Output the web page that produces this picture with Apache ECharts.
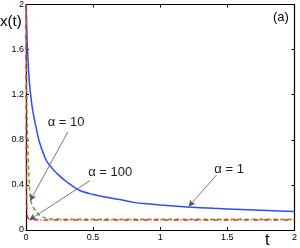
<!DOCTYPE html>
<html>
<head>
<meta charset="utf-8">
<script src="https://cdn.jsdelivr.net/npm/echarts@6/dist/echarts.min.js"></script>
<style>
html,body{margin:0;padding:0;background:#fff;}
#c{width:300px;height:248px;}
</style>
</head>
<body>
<div id="c"></div>
<script>
// ---- data ----
var tAlpha1 = [0, 0.005, 0.01, 0.02, 0.03, 0.05, 0.075, 0.1, 0.15, 0.2, 0.25, 0.3, 0.4, 0.5, 0.6, 0.7, 0.8, 0.9, 1.0, 1.2, 1.4, 1.6, 1.8, 2.0];
var xAlpha1 = [2.0, 1.8, 1.63, 1.4, 1.25, 1.06, 0.91, 0.78, 0.62, 0.54, 0.48, 0.43, 0.35, 0.315, 0.29, 0.27, 0.245, 0.232, 0.222, 0.205, 0.192, 0.182, 0.172, 0.163];

var tAlpha10 = [0, 0.002, 0.005, 0.01, 0.015, 0.02, 0.03, 0.04, 0.05, 0.075, 0.1, 0.15, 0.2, 0.3, 0.5, 1.0, 1.5, 2.0];
var xAlpha10 = [2.0, 1.6, 1.2, 0.9, 0.7, 0.52, 0.3, 0.24, 0.21, 0.165, 0.13, 0.105, 0.098, 0.096, 0.096, 0.096, 0.096, 0.096];

var tAlpha100 = [0, 0.001, 0.002, 0.004, 0.006, 0.01, 0.02, 0.05, 0.1, 0.5, 1.0, 1.5, 2.0];
var xAlpha100 = [2.0, 1.2, 0.7, 0.35, 0.2, 0.12, 0.095, 0.09, 0.089, 0.088, 0.088, 0.088, 0.088];

var xTickLabels = ['0', '0.5', '1', '1.5', '2'];
var yTickLabels = ['0', '0.4', '0.8', '1.2', '1.6', '2'];

var annotLabels = ['\u03b1 = 10', '\u03b1 = 100', '\u03b1 = 1'];
var annotTextAt = [[0.299, 0.956], [0.627, 0.509], [1.513, 0.54]];
var annotFrom = [[0.312, 0.87], [0.476, 0.438], [1.419, 0.487]];
var annotTo = [[0.03, 0.257], [0.024, 0.088], [1.21, 0.206]];

function pairs(t, v) { return t.map(function (x, i) { return [x, v[i]]; }); }

var chart = echarts.init(document.getElementById('c'), null, {renderer: 'canvas'});
var font = 'Liberation Sans, Arial, sans-serif';

var axisCommon = {
  min: 0, max: 2,
  axisLine: {show: true, onZero: false, lineStyle: {color: '#000', width: 1.2}},
  axisTick: {show: true, inside: true, length: 3, lineStyle: {color: '#000'}},
  splitLine: {show: false}
};

var option = {
  animation: false,
  backgroundColor: '#fff',
  grid: {left: 26, right: 3, top: 4, bottom: 18, containLabel: false},
  xAxis: [
    Object.assign({}, axisCommon, {
      type: 'value', interval: 0.5, position: 'bottom',
      axisLabel: {show: true, margin: 3, fontSize: 9, color: '#000', fontFamily: font,
        formatter: function (v) { return xTickLabels[Math.round(v / 0.5)]; }}
    }),
    Object.assign({}, axisCommon, {
      type: 'value', interval: 0.5, position: 'top',
      axisLabel: {show: false}
    })
  ],
  yAxis: [
    Object.assign({}, axisCommon, {
      type: 'value', interval: 0.4, position: 'left',
      axisLabel: {show: true, margin: 2, fontSize: 9, color: '#000', fontFamily: font,
        formatter: function (v) { return yTickLabels[Math.round(v / 0.4)]; }}
    }),
    Object.assign({}, axisCommon, {
      type: 'value', interval: 0.4, position: 'right',
      axisLabel: {show: false}
    })
  ],
  series: [
    {
      name: 'alpha1', type: 'line', data: pairs(tAlpha1, xAlpha1),
      showSymbol: false, smooth: 0.3, clip: true,
      lineStyle: {color: '#2b4cff', width: 1.5}
    },
    {
      name: 'alpha10', type: 'line', data: pairs(tAlpha10, xAlpha10),
      showSymbol: false, smooth: 0.2, clip: true,
      lineStyle: {color: '#4fb336', width: 1.5, type: [4, 3]}
    },
    {
      name: 'alpha100', type: 'line', data: pairs(tAlpha100, xAlpha100),
      showSymbol: false, smooth: false, clip: true,
      lineStyle: {color: '#ff2424', width: 1.5, type: [5, 2, 1, 2]}
    },
    {
      name: 'annot', type: 'line', data: [], silent: true,
      markLine: {
        silent: true, animation: false,
        symbol: ['none', 'arrow'], symbolSize: [5, 7],
        lineStyle: {color: '#555', width: 0.8, type: 'solid'},
        label: {show: false},
        data: annotFrom.map(function (f, i) {
          return [{coord: f}, {coord: annotTo[i]}];
        })
      },
      markPoint: {
        silent: true, animation: false,
        symbol: 'circle', symbolSize: 0,
        label: {show: true, position: 'inside', color: '#222', fontSize: 13, fontFamily: font},
        data: annotTextAt.map(function (p, i) {
          return {coord: p, value: annotLabels[i], label: {formatter: annotLabels[i]}};
        })
      }
    }
  ],
  graphic: [
    {type: 'text', left: 0, top: 14, style: {text: 'x(t)', fontSize: 15, fill: '#000', fontFamily: font}},
    {type: 'text', left: 265, top: 233, style: {text: 't', fontSize: 16, fill: '#000', fontFamily: font}},
    {type: 'text', left: 273, top: 11, style: {text: '(a)', fontSize: 13, fill: '#000', fontFamily: font}}
  ]
};
chart.setOption(option);
</script>
</body>
</html>
